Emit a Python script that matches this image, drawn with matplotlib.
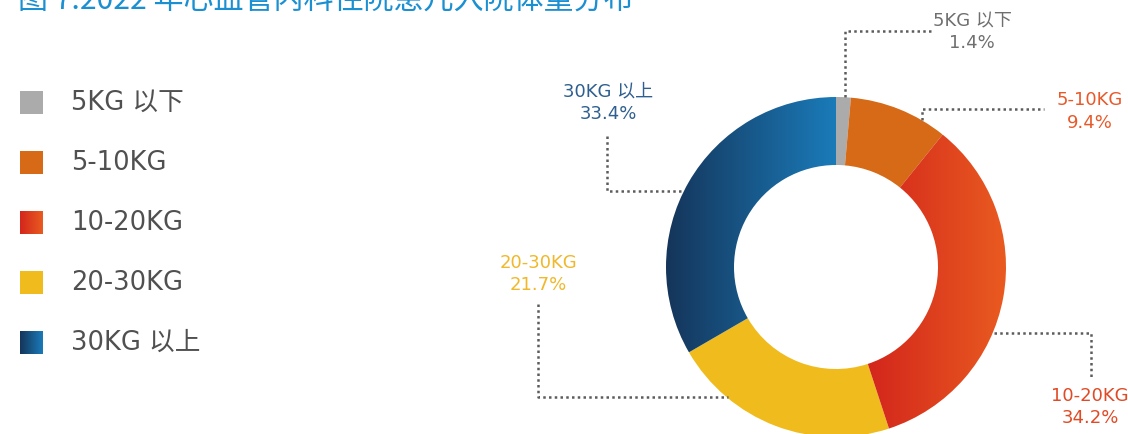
import numpy as np
import matplotlib.pyplot as plt
from matplotlib.colors import LinearSegmentedColormap
from matplotlib.patches import Rectangle

plt.rcParams['font.family'] = ['DejaVu Sans', 'Noto Sans CJK SC']

# data
categories = ['5KG 以下', '5-10KG', '10-20KG', '20-30KG', '30KG 以上']
shares = [1.4, 9.4, 34.2, 21.7, 33.4]
title = '图 7:2022 年心血管内科住院患儿入院体重分布'

# solid colour, or (left, right) for a horizontal gradient
fills = ['#ababab', '#d66a16', ('#d3261c', '#e95b20'), '#f0bb1d', ('#15355a', '#1a7bb9')]
label_colors = ['#6f6f6f', '#e8592a', '#e04a25', '#f0b82a', '#2e5f8f']

W, H = 1128, 435
fig = plt.figure(figsize=(W / 100, H / 100), dpi=100)
ax = fig.add_axes([0, 0, 1, 1])


def py(y):
    # pixel row (from top) -> data y
    return H - y


def gradient(patch, c0, c1, extent):
    cmap = LinearSegmentedColormap.from_list('g', [c0, c1])
    im = ax.imshow(np.linspace(0, 1, 256).reshape(1, -1), cmap=cmap, extent=extent,
                   aspect='auto', origin='lower', interpolation='bilinear',
                   zorder=patch.get_zorder() + 0.1)
    im.set_clip_path(patch)


# donut
cx, cy, R = 836, py(268), 170
wedges, _ = ax.pie(shares, center=(cx, cy), radius=R, startangle=90, counterclock=False,
                   colors=[f if isinstance(f, str) else 'none' for f in fills],
                   wedgeprops=dict(width=68, linewidth=0))
for w, f in zip(wedges, fills):
    if not isinstance(f, str):
        bb = w.get_path().get_extents(w.get_patch_transform())
        gradient(w, f[0], f[1], (bb.x0, bb.x1, bb.y0, bb.y1))

# callouts: leader polyline, name row, percent row
leaders = [
    [(845, 98), (845, 32), (933, 32)],
    [(922, 121), (922, 110), (1044, 110)],
    [(994, 334), (1091, 334), (1091, 378)],
    [(538, 305), (538, 398), (728, 398)],
    [(607, 137), (607, 192), (683, 192)],
]
label_pos = [(972, 21, 43), (1090, 100, 123), (1090, 396, 418), (538, 263, 285), (608, 91, 114)]

for i, cat in enumerate(categories):
    xs = [p[0] for p in leaders[i]]
    ys = [py(p[1]) for p in leaders[i]]
    ax.plot(xs, ys, color='#5c5c5c', lw=1.8, ls=(0, (1, 1.3)), solid_capstyle='butt')
    x, y1, y2 = label_pos[i]
    ax.text(x, py(y1), cat, color=label_colors[i], fontsize=13, ha='center', va='center')
    ax.text(x, py(y2), f'{shares[i]}%', color=label_colors[i], fontsize=13, ha='center', va='center')

# legend
for i, cat in enumerate(categories):
    yc = 103 + 60 * i
    box = (20, 43, py(yc + 11.5), py(yc - 11.5))
    f = fills[i]
    if isinstance(f, str):
        ax.add_patch(Rectangle((box[0], box[2]), box[1] - box[0], box[3] - box[2],
                               facecolor=f, linewidth=0))
    else:
        cmap = LinearSegmentedColormap.from_list('g', [f[0], f[1]])
        ax.imshow(np.linspace(0, 1, 64).reshape(1, -1), cmap=cmap, extent=box,
                  aspect='auto', origin='lower', interpolation='bilinear')
    ax.text(71, py(yc), cat, color='#505050', fontsize=18.5, va='center', ha='left')

fig.text(18 / W, 1 - 8.5 / H, title, color='#1a8fd1', fontsize=21.6,
         family='Noto Sans CJK SC', va='baseline', ha='left')

ax.set_xlim(0, W)
ax.set_ylim(0, H)
ax.set_aspect('equal')
ax.axis('off')

fig.savefig('out.png', dpi=100)
